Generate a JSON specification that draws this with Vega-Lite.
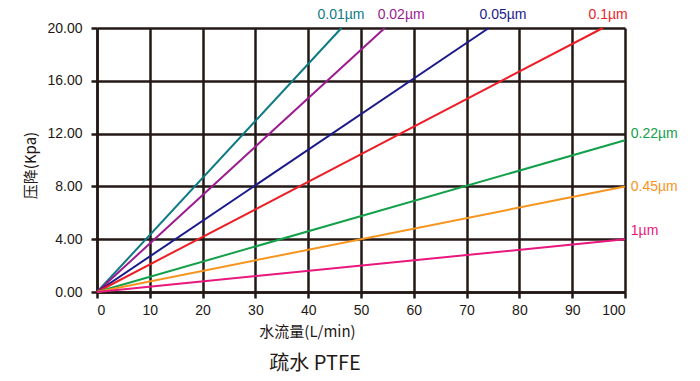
{
  "$schema": "https://vega.github.io/schema/vega-lite/v6.json",
  "width": 528,
  "height": 264,
  "autosize": {"type": "none"},
  "padding": {"left": 97, "top": 28, "right": 75, "bottom": 89},
  "background": "white",
  "config": {"view": {"stroke": null}, "font": "Liberation Sans"},
  "title": {"text": "疏水 PTFE", "orient": "bottom", "anchor": "middle", "dx": -46, "offset": 15, "fontSize": 20, "font": "Noto Sans CJK SC", "fontWeight": "normal", "color": "#231815"},
  "datasets": {
    "lines": [
      {"size": "0.01µm", "flow": 0, "dp": 0}, {"size": "0.01µm", "flow": 46.3, "dp": 20},
      {"size": "0.02µm", "flow": 0, "dp": 0}, {"size": "0.02µm", "flow": 54.5, "dp": 20},
      {"size": "0.05µm", "flow": 0, "dp": 0}, {"size": "0.05µm", "flow": 74.2, "dp": 20},
      {"size": "0.1µm", "flow": 0, "dp": 0}, {"size": "0.1µm", "flow": 95.8, "dp": 20},
      {"size": "0.22µm", "flow": 0, "dp": 0}, {"size": "0.22µm", "flow": 100, "dp": 11.5},
      {"size": "0.45µm", "flow": 0, "dp": 0}, {"size": "0.45µm", "flow": 100, "dp": 8.0},
      {"size": "1µm", "flow": 0, "dp": 0}, {"size": "1µm", "flow": 100, "dp": 4.0}
    ],
    "topLabels": [
      {"size": "0.01µm", "flow": 46.2, "dp": 20.95},
      {"size": "0.02µm", "flow": 57.6, "dp": 20.95},
      {"size": "0.05µm", "flow": 76.9, "dp": 20.95},
      {"size": "0.1µm", "flow": 96.8, "dp": 20.95}
    ],
    "rightLabels": [
      {"size": "0.22µm", "flow": 101.1, "dp": 11.97},
      {"size": "0.45µm", "flow": 101.1, "dp": 7.98},
      {"size": "1µm", "flow": 101.1, "dp": 4.62}
    ]
  },
  "encoding": {
    "x": {"field": "flow", "type": "quantitative", "scale": {"domain": [0, 100], "nice": false}},
    "y": {"field": "dp", "type": "quantitative", "scale": {"domain": [0, 20], "nice": false}},
    "color": {"field": "size", "type": "nominal", "legend": null,
      "scale": {"domain": ["0.01µm","0.02µm","0.05µm","0.1µm","0.22µm","0.45µm","1µm"],
        "range": ["#0e7a83","#9b1b8e","#1b1a8a","#ee1c24","#14a04a","#f7941d","#e8177d"]}}
  },
  "layer": [
    {
      "data": {"name": "lines"},
      "mark": {"type": "line", "strokeWidth": 2},
      "encoding": {
        "x": {"field": "flow", "type": "quantitative", "scale": {"domain": [0, 100], "nice": false},
          "axis": {"title": "水流量(L/min)", "values": [0,10,20,30,40,50,60,70,80,90,100], "grid": true, "gridColor": "#231815", "gridWidth": 2.5, "gridOpacity": 1,
            "domainColor": "#231815", "domainWidth": 2.5, "tickColor": "#231815", "tickWidth": 2.5, "tickSize": 6,
            "labelFontSize": 14, "labelColor": "#231815", "labelPadding": 5, "labelFont": "Liberation Sans",
            "titleFont": "Noto Sans CJK SC", "titleFontSize": 15, "titleFontWeight": "normal", "titleColor": "#231815", "titleX": 210, "titleY": 32}},
        "y": {"field": "dp", "type": "quantitative", "scale": {"domain": [0, 20], "nice": false},
          "axis": {"title": "压降(Kpa)", "values": [0,4,8,12,16,20], "format": ".2f", "grid": true, "gridColor": "#231815", "gridWidth": 2.5, "gridOpacity": 1,
            "domainColor": "#231815", "domainWidth": 2.5, "tickColor": "#231815", "tickWidth": 2.5, "tickSize": 6,
            "labelFontSize": 14, "labelColor": "#231815", "labelPadding": 9, "labelFont": "Liberation Sans",
            "titleFont": "Noto Sans CJK SC", "titleFontSize": 15, "titleFontWeight": "normal", "titleColor": "#231815", "titleX": -59, "titleY": 137}}
      }
    },
    {
      "data": {"name": "topLabels"},
      "mark": {"type": "text", "fontSize": 14, "baseline": "middle", "align": "center", "font": "Liberation Sans"},
      "encoding": {"text": {"field": "size"}}
    },
    {
      "data": {"name": "rightLabels"},
      "mark": {"type": "text", "fontSize": 14, "baseline": "middle", "align": "left", "font": "Liberation Sans"},
      "encoding": {"text": {"field": "size"}}
    }
  ]
}
